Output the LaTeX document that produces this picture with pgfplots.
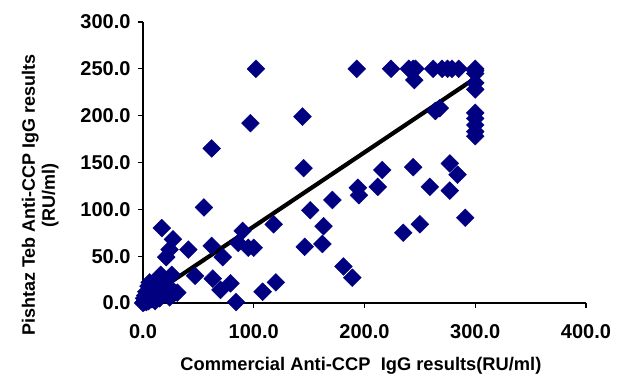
\documentclass[border=0pt]{standalone}
\usepackage{pgfplots}
\pgfplotsset{compat=1.18}
\usepackage{fontspec}
\setmainfont{Liberation Sans}
\definecolor{navy}{RGB}{0,0,128}
\begin{document}
\begin{tikzpicture}
\begin{axis}[
  scale only axis,
  width=443pt, height=281pt,
  xmin=0, xmax=400, ymin=0, ymax=300,
  axis lines=left,
  axis line style={line width=1.2pt, -},
  xtick={0,100,200,300,400},
  ytick={0,50,100,150,200,250,300},
  tick style={line width=1.2pt, black},
  tick align=outside,
  major tick length=5pt,
  /pgf/number format/.cd, fixed, fixed zerofill, precision=1, assume math mode=true,
  /pgfplots/.cd,
  ticklabel style={font=\fontsize{20}{22}\selectfont\bfseries},
  xticklabel style={yshift=-13pt},
  yticklabel style={xshift=-4pt},
  clip=false,
]
\path (rel axis cs:-0.3228,-0.2456) rectangle (rel axis cs:1.0745,1.0783);
\addplot[only marks, mark=square*, mark options={rotate=45, fill=navy, draw=navy}, mark size=6.3pt] coordinates {
(102,250) (193,250) (224,250) (240,250) (244,250) (246,250) (262,250) (270,250) (275,250) (279,250) (285,250) (300,250)
(245,238)
(300,248) (300,245) (300,235) (300,228) (300,203) (300,197) (300,190) (300,183) (300,178)
(264,205) (268,208)
(216,142) (212,124) (244,145) (259,124) (277,149) (284,137) (277,120) (235,75) (250,84) (291,91)
(145,144) (151,99) (171,110) (163,82) (146,60) (162,63) (181,39) (189,27) (194,123) (195,115)
(144,199) (97,192) (100,59) (118,84) (108,12) (120,22)
(62,165) (55,102) (17,80) (27,68) (24,57) (21,49) (41,57) (62,61) (72,49) (90,77) (86,64) (95,59)
(47,29) (63,26) (79,21) (70,14) (84,1) (27,9) (6,22)
(0,0) (1,1) (2,3) (3,1) (1,5) (4,6) (5,2) (6,9) (8,4) (3,12) (7,15) (9,21) (10,8) (12,13) (14,18)
(15,5) (16,30) (18,22) (20,10) (22,16) (24,6) (26,30) (28,12) (31,11) (5,18) (11,2) (2,8) (13,25)
};
\addplot[black, line width=4.2pt] coordinates {(0,2.5) (300,240)};
\node[font=\fontsize{18.3}{20}\selectfont\bfseries, anchor=center] at (rel axis cs:0.492,-0.224) {Commercial Anti-CCP\ \ IgG results(RU/ml)};
\node[font=\fontsize{18}{20}\selectfont\bfseries, rotate=90, align=center, anchor=center] at (rel axis cs:-0.232,0.384) {Pishtaz Teb Anti-CCP IgG results\\(RU/ml)};
\end{axis}
\end{tikzpicture}
\end{document}
